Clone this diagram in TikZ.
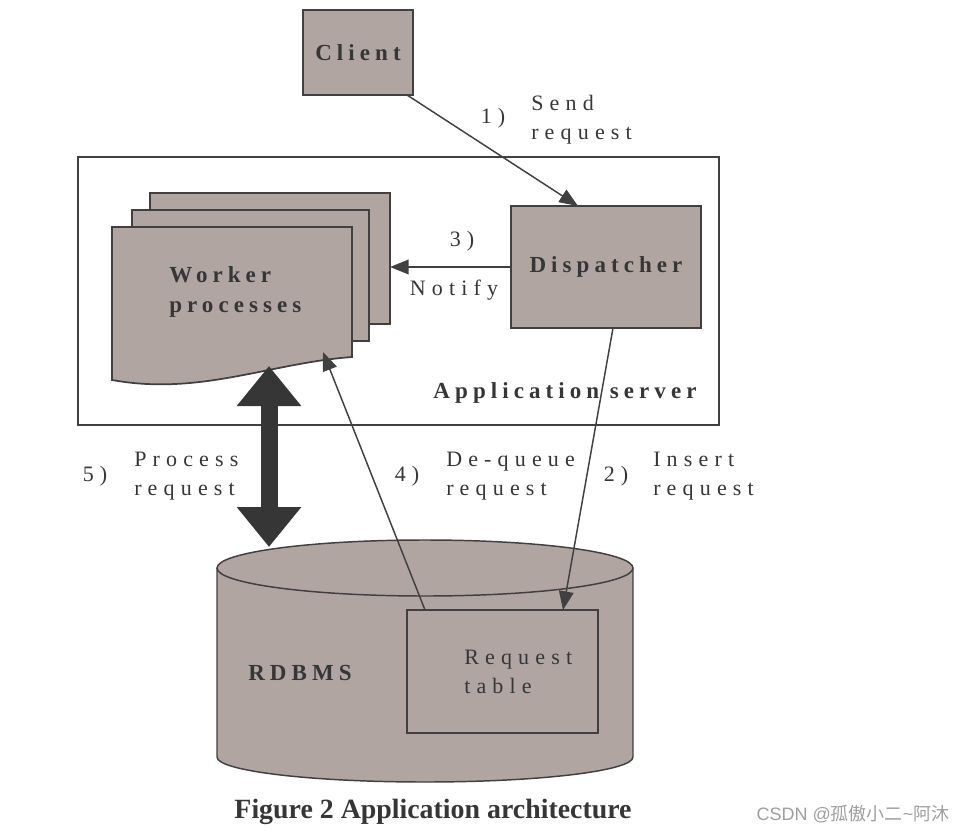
\documentclass[tikz,border=0pt]{standalone}
\usepackage{fontspec}
\setmainfont{Liberation Serif}
\newfontfamily\lsp[LetterSpace=28]{Liberation Serif}
\newfontfamily\bsp[LetterSpace=22]{Liberation Serif}
\newfontfamily\cjk{Noto Sans CJK SC}
\newfontfamily\wmsans{Liberation Sans}
\usetikzlibrary{arrows.meta,fit}
\definecolor{boxfill}{HTML}{B1A5A2}
\definecolor{ink}{HTML}{363636}
\definecolor{edge}{HTML}{404040}
\tikzset{
  box/.style={draw=edge, line width=1.3pt, fill=boxfill, inner sep=0pt},
  lbl/.style={text=ink, font=\lsp\fontsize{16.5}{21.75}\selectfont, inner sep=0pt, align=left},
  blbl/.style={text=ink, font=\bsp\bfseries\fontsize{17.25}{22.5}\selectfont, inner sep=0pt, align=left},
  conn/.style={draw=edge, line width=1.1pt, -{Triangle[length=14pt,width=11pt]}},
}
\begin{document}
\begin{tikzpicture}[x=0.75pt,y=-0.75pt]
\useasboundingbox (0,0) rectangle (969,834);
% application server
\draw[edge, line width=0.9pt] (78,157) rectangle (719,425);
\node[blbl, anchor=center] (apptxt) at (565,393) {Application server};
% client
\node[box, fit={(303,10) (413,95)}] (client) {};
\node[blbl] at (client.center) {Client};
% dispatcher
\node[box, fit={(511,206) (701,328)}] (disp) {};
\node[blbl] at (disp.center) {Dispatcher};
% worker pages
\node[box, fit={(150,193) (390,324)}] (wback) {};
\node[box, fit={(132,210) (369,341)}] (wmid) {};
\filldraw[draw=edge, line width=1.3pt, fill=boxfill]
  (112,227) -- (352,227) -- (352,357)
  .. controls (270,363) and (200,396) .. (112,380) -- cycle;
\node[blbl, anchor=west] (wtxt) at (169,292) {Worker\\processes};
\coordinate (w4) at (323,352);
\coordinate (w5) at (269,366);
\coordinate (wnotify) at (390,267);
% cylinder
\fill[boxfill] (217,568) -- (217,757) arc[start angle=180, end angle=0, x radius=208, y radius=25]
  -- (633,568) arc[start angle=0, end angle=-180, x radius=208, y radius=28] -- cycle;
\draw[edge, line width=1.1pt] (217,568) -- (217,757) arc[start angle=180, end angle=0, x radius=208, y radius=25] -- (633,568);
\draw[edge, line width=1.1pt] (425,568) ellipse [x radius=208, y radius=28];
\coordinate (db5) at (269,547);
\node[blbl] (rdbms) at (300,673) {RDBMS};
% request table
\node[box, fit={(407,610) (598,733)}] (rtab) {};
\node[lbl, anchor=west] (rtxt) at (464,672) {Request\\table};
\coordinate (rt2) at (563,610);
\coordinate (rt4) at (425,610);
\coordinate (c1) at (407,95);
\coordinate (d1) at (578,206);
\coordinate (d2) at (613,328);
\coordinate (d3) at (511,267);
% connectors
\draw[conn] (c1) -- (d1);
\draw[conn] (d3) -- (wnotify);
\draw[conn] (d2) -- (rt2);
\draw[conn] (rt4) -- (w4);
\draw[draw=ink, line width=12.75pt, {Triangle[length=30pt,width=46.5pt]}-{Triangle[length=30pt,width=46.5pt]}] (w5) -- (db5);
% labels
\node[lbl] at (493,118) {1)};
\node[lbl, anchor=west] at (531,119.5) {Send\\request};
\node[lbl] at (462,241) {3)};
\node[lbl] at (454,290) {Notify};
\node[lbl] at (95,476) {5)};
\node[lbl, anchor=west] at (134,476) {Process\\request};
\node[lbl] at (407,476) {4)};
\node[lbl, anchor=west] at (446,476) {De-queue\\request};
\node[lbl] at (616,476) {2)};
\node[lbl, anchor=west] at (653,476) {Insert\\request};
% caption
\node[text=ink, font=\bfseries\fontsize{20.9}{24}\selectfont, inner sep=0pt] (cap) at (433,812) {Figure 2 Application architecture};
\node[text=black!38, font=\fontsize{13.5}{15}\selectfont, inner sep=0pt] (wm) at (853,814) {\wmsans CSDN @\cjk 孤傲小二\wmsans\textasciitilde\cjk 阿沐};
\end{tikzpicture}
\end{document}
